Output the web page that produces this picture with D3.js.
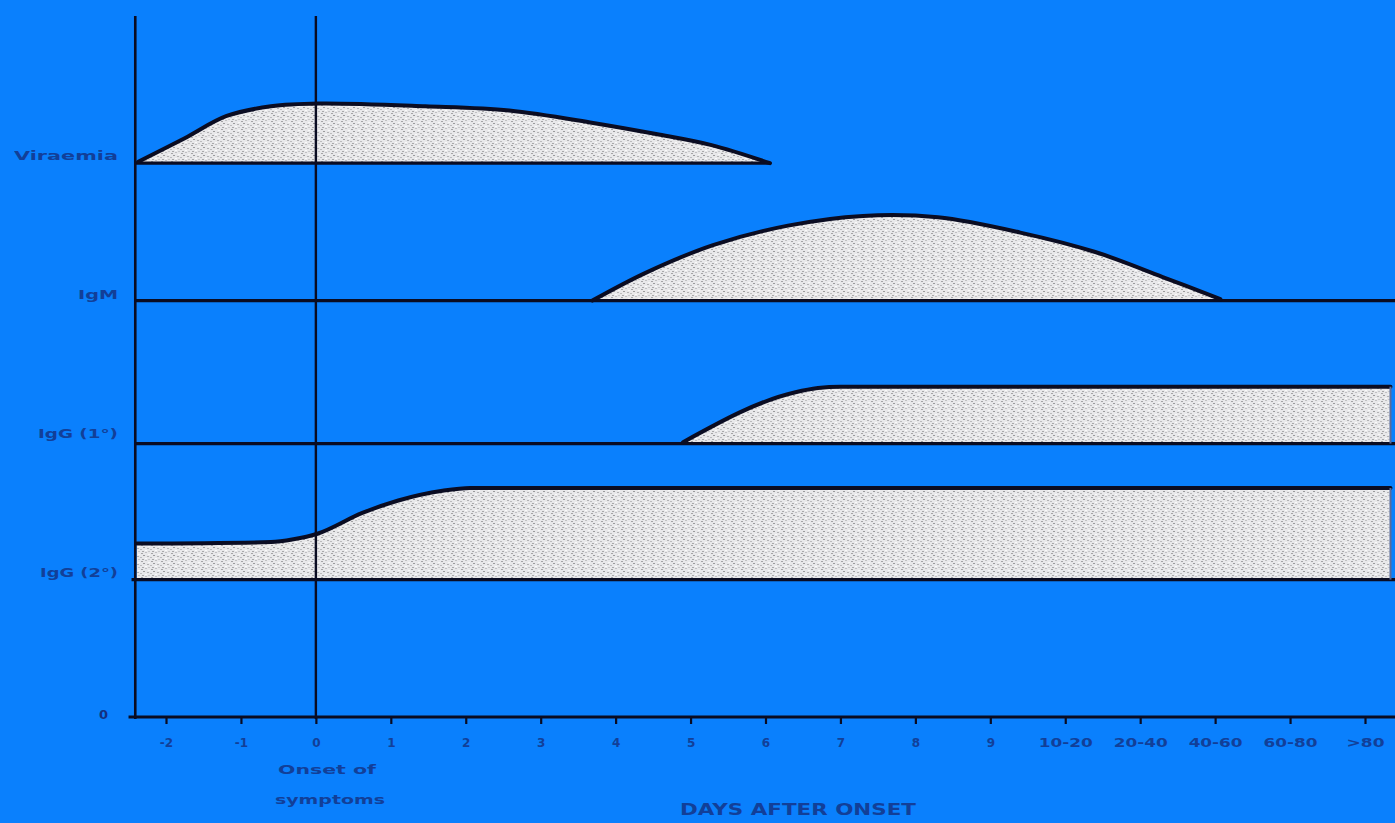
<!DOCTYPE html>
<html>
<head>
<meta charset="utf-8">
<script src="https://cdn.jsdelivr.net/npm/d3@7"></script>
<style>
  html, body { margin: 0; padding: 0; background: #0a80fd; overflow: hidden; }
  svg { display: block; }
</style>
</head>
<body>
<svg id="chart" width="1395" height="823"></svg>
<script>
// ---- data ----
const categories = ["-2","-1","0","1","2","3","4","5","6","7","8","9","10-20","20-40","40-60","60-80",">80"];
const rowLabels = ["Viraemia","IgM","IgG (1°)","IgG (2°)"];
const rowLevels = [4, 3, 2, 1];

// position on the day axis (index units, -2 .. 14) and level of the upper edge
const viraemiaDay   = [-2.37,-1.75,-1.19,-0.60,0.04,1.46,2.58,3.70,4.54,5.28,6.06];
const viraemiaLevel = [4.00,4.17,4.33,4.40,4.42,4.40,4.37,4.28,4.20,4.12,3.99];
const viraemiaBase  = 3.99;

const igmDay   = [3.69,4.40,5.30,6.30,7.30,8.30,9.40,10.40,11.30,12.07];
const igmLevel = [3.00,3.20,3.40,3.54,3.61,3.60,3.49,3.35,3.17,3.01];
const igmBase  = 3.00;

const igg1Day   = [4.90,6.40,6.70,7.00,14.34];
const igg1Level = [1.98,2.34,2.37,2.38,2.38];
const igg1Base  = 1.97;

const igg2Day   = [-2.39,-0.60,-0.30,0.02,0.62,1.10,1.69,2.06,14.34];
const igg2Level = [1.25,1.26,1.28,1.32,1.47,1.56,1.63,1.65,1.65];
const igg2Base  = 0.99;

const axisStart = -2.41, axisEnd = 14.45, axisTop = 5.05;
const onsetDay = 0;

// ---- drawing ----
const svg = d3.select("#chart");
const W = 1395, H = 823;
const ink = "#0a0c22";
const textCol = "#143080";
const labelFont = "DejaVu Sans, Liberation Sans, Arial, sans-serif";

const x = d3.scaleLinear().domain([-2, 14]).range([166, 1365]);
const y = d3.scaleLinear().domain([0, 5]).range([717, 23]);

// stipple pattern
const defs = svg.append("defs");
const pat = defs.append("pattern").attr("id","stip").attr("patternUnits","userSpaceOnUse")
  .attr("width", 10).attr("height", 8);
pat.append("rect").attr("width",10).attr("height",8).attr("fill","#e8e8ea");
[[1,1,"#a4a4a6"],[5,0,"#c0c0c2"],[3,3,"#9a9a9c"],[7,4,"#b2b2b4"],[0,5,"#bcbcbe"],[5,6,"#fafafa"],[8,2,"#f7f7f7"],[2,7,"#a8a8aa"],[8,7,"#c8c8ca"]]
  .forEach(([px,py,c]) => pat.append("rect").attr("x",px).attr("y",py).attr("width",2).attr("height",1).attr("fill",c));

svg.append("rect").attr("width",W).attr("height",H).attr("fill","#0a80fd");

const smooth = d3.curveCatmullRom.alpha(0.5);
const series = [
  {day: viraemiaDay, level: viraemiaLevel, base: viraemiaBase, baseFrom: axisStart, baseTo: viraemiaDay[viraemiaDay.length-1], rightEdge:false, curve: smooth},
  {day: igmDay, level: igmLevel, base: igmBase, baseFrom: axisStart, baseTo: axisEnd, rightEdge:false, curve: smooth},
  {day: igg1Day, level: igg1Level, base: igg1Base, baseFrom: axisStart, baseTo: axisEnd, rightEdge:true, curve: d3.curveMonotoneX},
  {day: igg2Day, level: igg2Level, base: igg2Base, baseFrom: axisStart - 0.05, baseTo: axisEnd, rightEdge:true, curve: d3.curveMonotoneX}
];

series.forEach(s => {
  const pts = s.day.map((d,i) => [d, s.level[i], s.base]);
  const area = d3.area().curve(s.curve).x(d => x(d[0])).y1(d => y(d[1])).y0(d => y(d[2]));
  const line = d3.line().curve(s.curve).x(d => x(d[0])).y(d => y(d[1]));
  svg.append("path").attr("d", area(pts)).attr("fill","url(#stip)");
  svg.append("line")
    .attr("x1", x(s.baseFrom)).attr("x2", x(s.baseTo))
    .attr("y1", y(s.base)).attr("y2", y(s.base))
    .attr("stroke", ink).attr("stroke-width", 3.2);
  svg.append("path").attr("d", line(pts)).attr("fill","none")
    .attr("stroke", ink).attr("stroke-width", 4).attr("stroke-linejoin","round").attr("stroke-linecap","round");
  if (s.rightEdge) {
    const last = s.day[s.day.length-1];
    svg.append("line").attr("x1", x(last)).attr("x2", x(last))
      .attr("y1", y(s.level[s.level.length-1])).attr("y2", y(s.base))
      .attr("stroke", "#5a6a9a").attr("stroke-width", 2);
  }
});

// y axis
svg.append("line").attr("x1", x(axisStart)).attr("x2", x(axisStart))
  .attr("y1", y(axisTop)).attr("y2", y(0) + 2)
  .attr("stroke", ink).attr("stroke-width", 2.6);
// onset line
svg.append("line").attr("x1", x(onsetDay)).attr("x2", x(onsetDay))
  .attr("y1", y(axisTop)).attr("y2", y(0) + 2)
  .attr("stroke", ink).attr("stroke-width", 2.4);

// x axis
const xAxis = d3.axisBottom(x)
  .tickValues(categories.map((c,i) => i - 2))
  .tickFormat((d,i) => categories[i])
  .tickSize(7).tickPadding(14);
const gx = svg.append("g").attr("transform", `translate(0,${y(0)})`).call(xAxis);
gx.select(".domain").remove();
gx.selectAll(".tick line").attr("stroke", ink).attr("stroke-width", 2.2);
gx.selectAll(".tick text").attr("fill", textCol).attr("font-family", labelFont)
  .attr("font-size", 12).attr("font-weight","bold").attr("opacity",0.8)
  .each(function(d,i){
    const lab = categories[i];
    if (lab.length > 3) d3.select(this).attr("textLength", 54).attr("lengthAdjust","spacingAndGlyphs");
    else if (lab.length === 3) d3.select(this).attr("textLength", 38).attr("lengthAdjust","spacingAndGlyphs");
  });
svg.append("line").attr("x1", x(-2.5)).attr("x2", x(axisEnd))
  .attr("y1", y(0)).attr("y2", y(0)).attr("stroke", ink).attr("stroke-width", 3);

// y labels
const rowWidths = [104, 40, 80, 78];
svg.selectAll("text.row").data(rowLabels).enter().append("text")
  .attr("class","row")
  .attr("x", 118).attr("y", (d,i) => y(rowLevels[i]) - 5)
  .attr("text-anchor","end").attr("dominant-baseline","middle")
  .attr("font-family", labelFont).attr("font-size", 13).attr("font-weight","bold")
  .attr("textLength", (d,i) => rowWidths[i]).attr("lengthAdjust","spacingAndGlyphs")
  .attr("fill", textCol).attr("opacity",0.8)
  .text(d => d);
svg.append("text").attr("x", 108).attr("y", y(0) - 2)
  .attr("text-anchor","end").attr("dominant-baseline","middle")
  .attr("font-family", labelFont).attr("font-size", 13).attr("font-weight","bold")
  .attr("fill", textCol).text("0");

// bottom labels
svg.append("text").attr("x", 327).attr("y", 770)
  .attr("text-anchor","middle").attr("dominant-baseline","middle")
  .attr("font-family", labelFont).attr("font-size", 13).attr("font-weight","bold")
  .attr("textLength", 98).attr("lengthAdjust","spacingAndGlyphs")
  .attr("fill", textCol).attr("opacity",0.8).text("Onset of");
svg.append("text").attr("x", 330).attr("y", 800)
  .attr("text-anchor","middle").attr("dominant-baseline","middle")
  .attr("font-family", labelFont).attr("font-size", 13).attr("font-weight","bold")
  .attr("textLength", 110).attr("lengthAdjust","spacingAndGlyphs")
  .attr("fill", textCol).attr("opacity",0.8).text("symptoms");
svg.append("text").attr("x", 798).attr("y", 810)
  .attr("text-anchor","middle").attr("dominant-baseline","middle")
  .attr("font-family", labelFont).attr("font-size", 15).attr("font-weight","bold")
  .attr("textLength", 236).attr("lengthAdjust","spacingAndGlyphs")
  .attr("fill", textCol).attr("opacity",0.8).text("DAYS AFTER ONSET");
</script>
</body>
</html>
